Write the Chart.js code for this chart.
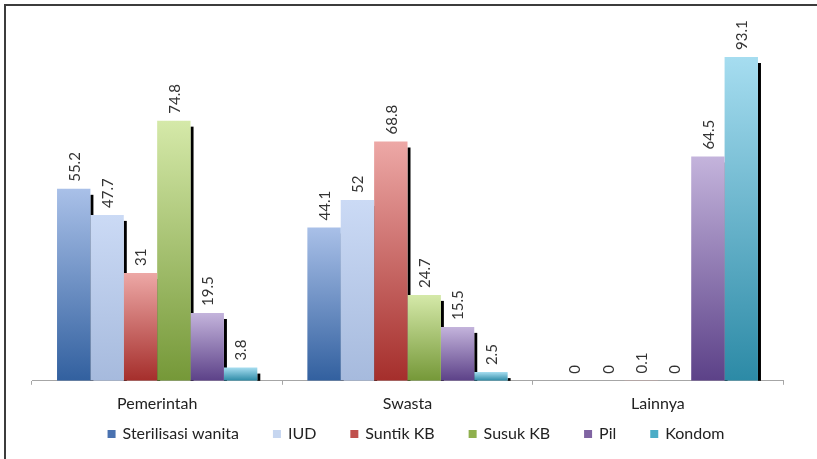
<!DOCTYPE html>
<html>
<head>
<meta charset="utf-8">
<script src="https://cdn.jsdelivr.net/npm/chart.js@4"></script>
<style>
  html, body { margin: 0; padding: 0; background: #fff; }
  #wrap { position: relative; width: 817px; height: 459px; }
  #frame {
    position: absolute; left: 4px; top: 4px; width: 813px; height: 453px;
    border-top: 2px solid #3c3c3c; border-left: 2px solid #3c3c3c;
    border-bottom: 1px solid #e4e4e4; pointer-events: none;
  }
</style>
</head>
<body>
<div id="wrap">
  <canvas id="chart" width="817" height="459"></canvas>
  <div id="frame"></div>
</div>
<script>
// data
const categories = ['Pemerintah', 'Swasta', 'Lainnya'];
const seriesNames = ['Sterilisasi wanita', 'IUD', 'Suntik KB', 'Susuk KB', 'Pil', 'Kondom'];
const sterilisasi = [55.2, 44.1, 0];
const iud = [47.7, 52, 0];
const suntik = [31, 68.8, 0.1];
const susuk = [74.8, 24.7, 0];
const pil = [19.5, 15.5, 64.5];
const kondom = [3.8, 2.5, 93.1];

// warna (atas terang -> bawah gelap)
const colorTop = ['#a9c0e8', '#cbdaf5', '#eda8a6', '#d5e9a9', '#c4b4dc', '#a6ddf0'];
const colorBottom = ['#32609f', '#a6badd', '#a52e2b', '#759838', '#5c4188', '#2c8aa6'];
const legendColors = ['#4a72b0', '#c6d6f0', '#c0504d', '#8fb04d', '#8064a2', '#4bacc6'];

const FONT = 'Lato, sans-serif';

function barGradient(ctx, i) {
    const chart = ctx.chart;
    const y = chart.scales.y;
    if (ctx.type !== 'data' || !y) return legendColors[i];
    const top = y.getPixelForValue(ctx.raw);
    const base = y.getPixelForValue(0);
    if (!isFinite(top) || base - top < 2) return colorTop[i];
    const g = chart.ctx.createLinearGradient(0, top, 0, base);
    g.addColorStop(0, colorTop[i]);
    g.addColorStop(1, colorBottom[i]);
    return g;
}

// bayangan hitam di sisi kanan batang
const shadowPlugin = {
    id: 'barShadow',
    beforeDatasetsDraw(chart) {
        const c = chart.ctx;
        c.save();
        c.fillStyle = '#000';
        chart.data.datasets.forEach((ds, di) => {
            chart.getDatasetMeta(di).data.forEach((el, j) => {
                if (ds.data[j] < 1) return;
                const h = el.base - el.y - 6;
                if (h > 0) c.fillRect(el.x + el.width / 2, el.y + 6, 3, h);
            });
        });
        c.restore();
    }
};

// label nilai vertikal
const labelPlugin = {
    id: 'valueLabels',
    afterDatasetsDraw(chart) {
        const c = chart.ctx;
        c.save();
        c.fillStyle = '#333';
        c.font = '15px ' + FONT;
        c.textAlign = 'left';
        c.textBaseline = 'middle';
        chart.data.datasets.forEach((ds, di) => {
            chart.getDatasetMeta(di).data.forEach((el, j) => {
                c.save();
                c.translate(el.x + 1, el.y - 7);
                c.rotate(-Math.PI / 2);
                c.fillText(String(ds.data[j]), 0, 0);
                c.restore();
            });
        });
        c.restore();
    }
};

// legenda di bawah (digambar sendiri supaya jaraknya mirip)
const legendPlugin = {
    id: 'bottomLegend',
    afterDraw(chart) {
        const c = chart.ctx;
        const box = 8, gapText = 7, gapItem = 34, yMid = 434;
        c.save();
        c.font = '16px ' + FONT;
        c.textBaseline = 'middle';
        c.textAlign = 'left';
        const widths = seriesNames.map(n => c.measureText(n).width);
        const total = widths.reduce((a, w) => a + box + gapText + w, 0) + gapItem * (seriesNames.length - 1);
        let x = 416 - total / 2;
        seriesNames.forEach((name, i) => {
            c.fillStyle = legendColors[i];
            c.fillRect(x, yMid - box / 2, box, box);
            x += box + gapText;
            c.fillStyle = '#222';
            c.fillText(name, x, yMid);
            x += widths[i] + gapItem;
        });
        c.restore();
    }
};

const seriesData = [sterilisasi, iud, suntik, susuk, pil, kondom];

new Chart(document.getElementById('chart'), {
    type: 'bar',
    data: {
        labels: categories,
        datasets: seriesNames.map((name, i) => ({
            label: name,
            data: seriesData[i],
            backgroundColor: (ctx) => barGradient(ctx, i),
            borderWidth: 0,
            categoryPercentage: 0.8,
            barPercentage: 1.0
        }))
    },
    options: {
        responsive: false,
        animation: false,
        layout: { padding: { left: 32, right: 34, top: 33, bottom: 37 } },
        scales: {
            y: { display: false, min: 0, max: 100 },
            x: {
                grid: { drawOnChartArea: false, drawTicks: true, tickLength: 4, color: '#a6a6a6' },
                border: { color: '#a6a6a6' },
                ticks: { color: '#222', padding: 9, font: { family: 'Lato', size: 16 } }
            }
        },
        plugins: {
            tooltip: { enabled: false },
            legend: { display: false }
        }
    },
    plugins: [shadowPlugin, labelPlugin, legendPlugin]
});
</script>
</body>
</html>
